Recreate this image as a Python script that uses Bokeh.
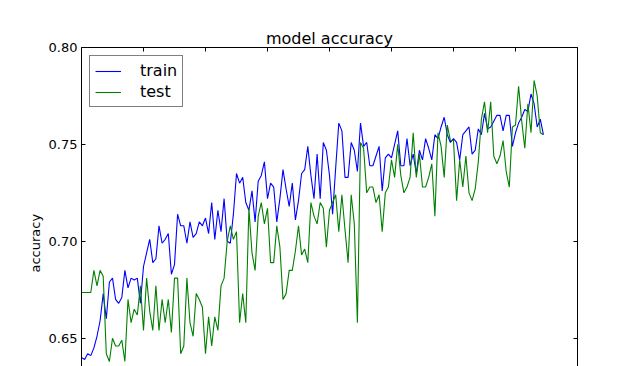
from bokeh.plotting import figure
from bokeh.models import (Range1d, LinearAxis, FixedTicker, NumeralTickFormatter,
                          Legend, LegendItem, Title)
from bokeh.embed import file_html
from bokeh.resources import INLINE

epochs = list(range(150))

train_acc = [
    0.640, 0.639, 0.642, 0.641, 0.645, 0.651, 0.659, 0.673, 0.660, 0.679,
    0.681, 0.670, 0.668, 0.671, 0.685, 0.676, 0.681, 0.680, 0.681, 0.668,
    0.687, 0.694, 0.701, 0.689, 0.691, 0.708, 0.699, 0.701, 0.704, 0.683,
    0.688, 0.714, 0.708, 0.708, 0.699, 0.710, 0.702, 0.704, 0.710, 0.708,
    0.712, 0.704, 0.720, 0.701, 0.716, 0.705, 0.722, 0.700, 0.699, 0.714,
    0.735, 0.730, 0.733, 0.720, 0.716, 0.726, 0.710, 0.731, 0.734, 0.741,
    0.722, 0.730, 0.728, 0.710, 0.722, 0.737, 0.727, 0.718, 0.730, 0.711,
    0.721, 0.735, 0.737, 0.749, 0.734, 0.722, 0.745, 0.722, 0.751, 0.747,
    0.734, 0.714, 0.738, 0.761, 0.757, 0.733, 0.733, 0.751, 0.747, 0.736,
    0.761, 0.749, 0.751, 0.739, 0.739, 0.744, 0.749, 0.726, 0.743, 0.745,
    0.743, 0.750, 0.757, 0.739, 0.739, 0.753, 0.739, 0.745, 0.735, 0.747,
    0.742, 0.753, 0.748, 0.742, 0.755, 0.753, 0.759, 0.764, 0.755, 0.751,
    0.753, 0.751, 0.742, 0.755, 0.757, 0.759, 0.745, 0.747, 0.758, 0.755,
    0.766, 0.758, 0.759, 0.762, 0.765, 0.765, 0.757, 0.765, 0.765, 0.749,
    0.756, 0.761, 0.764, 0.768, 0.767, 0.776, 0.771, 0.759, 0.763, 0.755,
]

test_acc = [
    0.6736, 0.6736, 0.6736, 0.6736, 0.685, 0.677, 0.685, 0.682, 0.642, 0.638,
    0.650, 0.646, 0.646, 0.649, 0.638, 0.670, 0.658, 0.665, 0.662, 0.677,
    0.654, 0.681, 0.664, 0.654, 0.677, 0.654, 0.670, 0.658, 0.670, 0.653,
    0.681, 0.681, 0.642, 0.646, 0.681, 0.658, 0.651, 0.673, 0.670, 0.666,
    0.642, 0.661, 0.646, 0.661, 0.654, 0.677, 0.681, 0.700, 0.708, 0.701,
    0.705, 0.658, 0.673, 0.658, 0.717, 0.694, 0.685, 0.713, 0.720, 0.709,
    0.717, 0.689, 0.689, 0.708, 0.697, 0.670, 0.673, 0.685, 0.685, 0.695,
    0.708, 0.693, 0.696, 0.689, 0.720, 0.713, 0.709, 0.720, 0.717, 0.697,
    0.716, 0.720, 0.724, 0.705, 0.724, 0.706, 0.689, 0.724, 0.709, 0.658,
    0.751, 0.748, 0.725, 0.728, 0.728, 0.720, 0.724, 0.705, 0.725, 0.728,
    0.742, 0.733, 0.750, 0.734, 0.725, 0.728, 0.733, 0.756, 0.733, 0.745,
    0.728, 0.728, 0.733, 0.740, 0.713, 0.756, 0.749, 0.733, 0.760, 0.752,
    0.752, 0.721, 0.742, 0.728, 0.744, 0.725, 0.721, 0.727, 0.741, 0.763,
    0.772, 0.756, 0.772, 0.744, 0.740, 0.744, 0.752, 0.736, 0.728, 0.759,
    0.760, 0.780, 0.762, 0.748, 0.771, 0.756, 0.783, 0.775, 0.756, 0.755,
]

x_ticks = [0, 20, 40, 60, 80, 100, 120, 140, 160]
y_ticks = [0.60, 0.65, 0.70, 0.75, 0.80]

FONT = "DejaVu Sans"

p = figure(width=640, height=366, output_backend="svg", toolbar_location=None,
           x_range=Range1d(0, 160), y_range=Range1d(0.6354, 0.80),
           x_axis_location=None, y_axis_location="left",
           min_border_left=81, min_border_right=63, min_border_top=47,
           min_border_bottom=0)
p.outline_line_color = None
p.background_fill_color = "white"
p.border_fill_color = "white"
p.xgrid.visible = False
p.ygrid.visible = False

p.title.text = "model accuracy"
p.title.align = "center"
p.title.text_font = FONT
p.title.text_font_size = "16px"
p.title.text_font_style = "normal"
p.title.text_color = "black"
p.title.standoff = 0

def style_axis(ax, show_labels):
    ax.axis_line_color = "black"
    ax.axis_line_width = 1
    ax.major_tick_line_color = "black"
    ax.major_tick_in = 4
    ax.major_tick_out = 0
    ax.minor_tick_line_color = None
    if show_labels:
        ax.major_label_text_font = FONT
        ax.major_label_text_font_size = "13px"
        ax.major_label_text_color = "black"
        ax.major_label_standoff = 4
    else:
        ax.major_label_text_font_size = "0px"
        ax.major_label_text_color = None
        ax.major_label_standoff = 0

yl = p.yaxis[0]
yl.ticker = FixedTicker(ticks=y_ticks)
yl.formatter = NumeralTickFormatter(format="0.00")
style_axis(yl, True)

yr = LinearAxis(ticker=FixedTicker(ticks=y_ticks))
style_axis(yr, False)
p.add_layout(yr, "right")

xt = LinearAxis(ticker=FixedTicker(ticks=x_ticks))
style_axis(xt, False)
p.add_layout(xt, "above")

r_train = p.line(epochs, train_acc, line_color="#0000ff", line_width=1.1)
r_test = p.line(epochs, test_acc, line_color="#008000", line_width=1.1)

legend = Legend(items=[LegendItem(label="train", renderers=[r_train]),
                       LegendItem(label="test", renderers=[r_test])],
                location="top_left")
legend.label_text_font = FONT
legend.label_text_font_size = "16px"
legend.label_text_color = "black"
legend.border_line_color = "black"
legend.border_line_width = 1
legend.border_radius = 0
legend.background_fill_color = "white"
legend.background_fill_alpha = 1
legend.margin = 8
legend.padding = 5
legend.spacing = 2
legend.glyph_width = 26
legend.glyph_height = 18
legend.label_height = 18
legend.label_standoff = 19
p.add_layout(legend, "center")

ytitle = Title(text="accuracy", align="left", offset=94,
               text_font=FONT, text_font_size="13px", text_font_style="normal",
               text_color="black", standoff=5)
p.add_layout(ytitle, "left")

open("out.html", "w").write(file_html(p, INLINE))
